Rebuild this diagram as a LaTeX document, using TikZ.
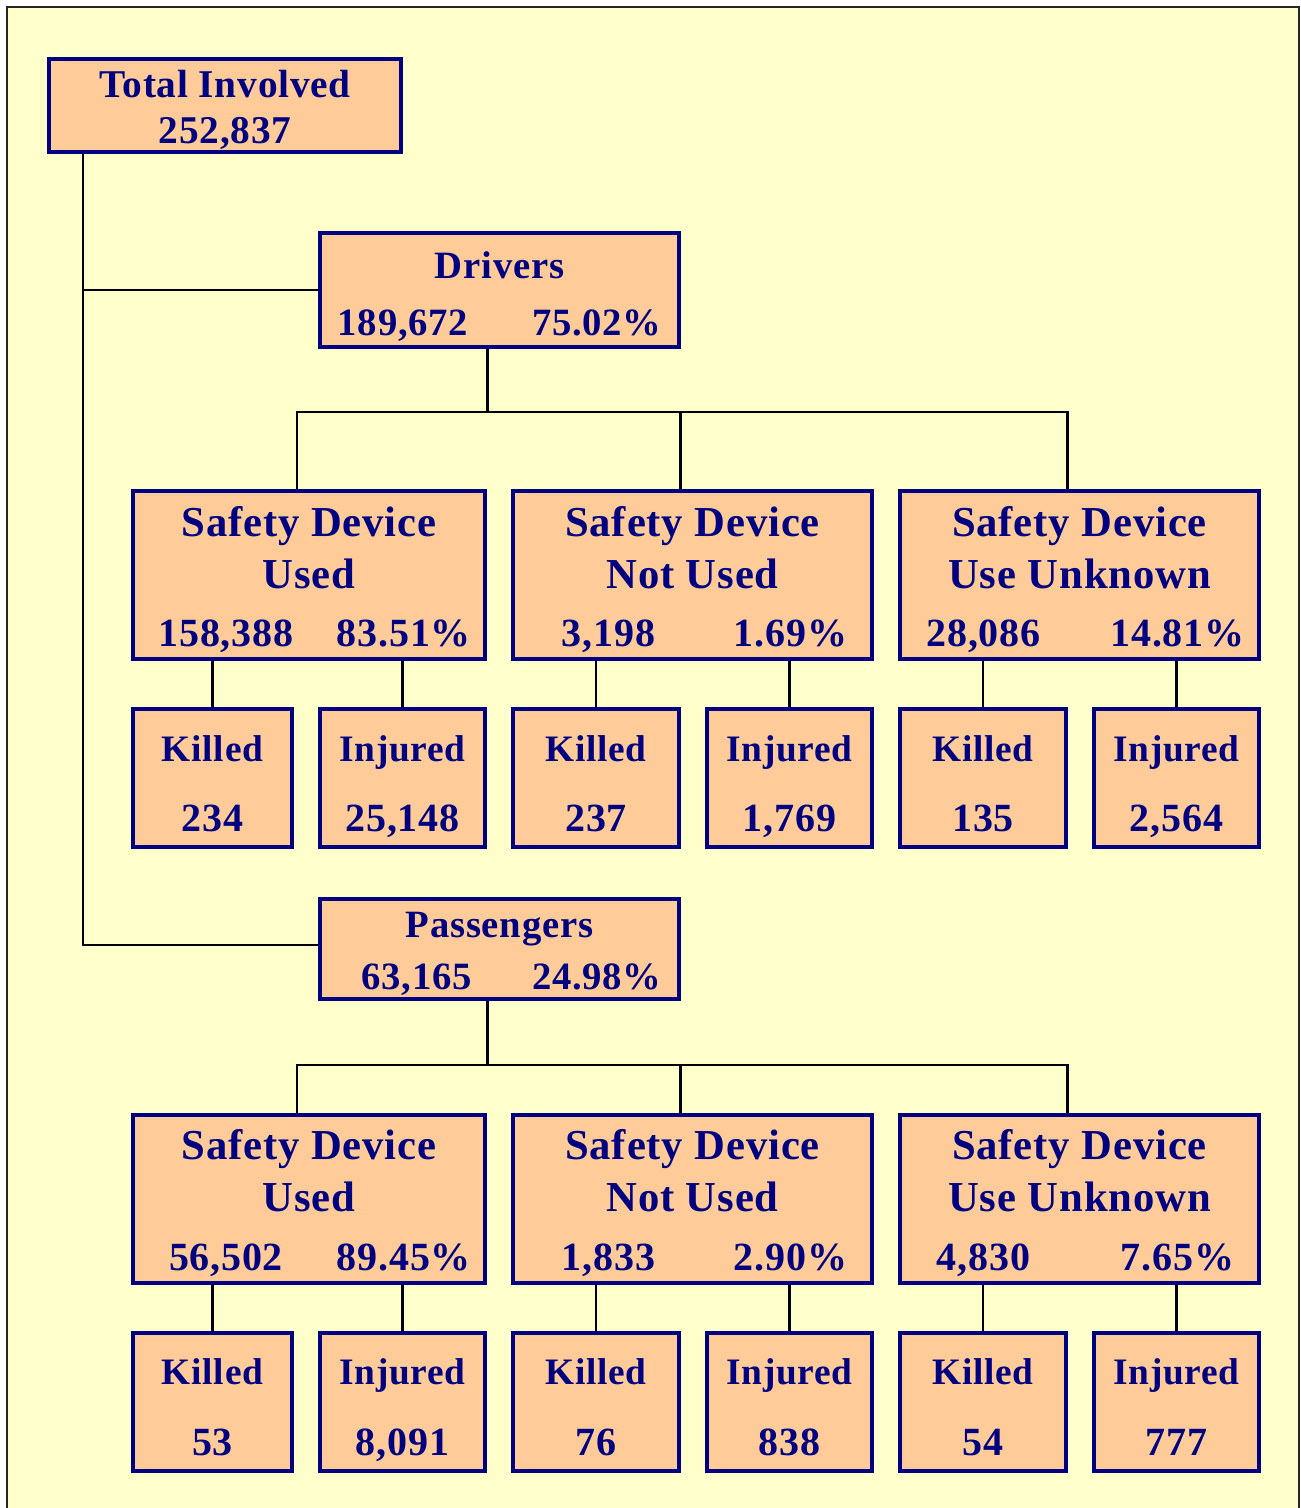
\documentclass[tikz,border=0pt]{standalone}
\usepackage{fontspec}
\setmainfont{Liberation Serif}[LetterSpace=2]
\usepackage{tikz}
\usetikzlibrary{calc}

\definecolor{navy}{HTML}{000080}
\definecolor{peach}{HTML}{FFCC99}
\definecolor{paper}{HTML}{FFFFCC}

% two figures side by side: #1 left of the box centre, #2 right of it
\newcommand{\twonum}[4]{\makebox[0pt][l]{\hspace{-#1}\makebox[0pt]{#3}%
   \hspace{\dimexpr#1+#2\relax}\makebox[0pt]{#4}}}
\newcommand{\lift}[1]{\rule{0pt}{#1}}
\newcommand{\sdnum}[4]{{\fontsize{30}{39}\selectfont\twonum{#1}{#2}{#3}{#4}}}
\newcommand{\ki}[2]{\lift{27.5pt}#1\\{\fontsize{30}{53}\selectfont\smash{#2}}}

\begin{document}
\begin{tikzpicture}[x=0.75pt,y=-0.75pt,
    box/.style={draw=navy,line width=3pt,fill=peach,text=navy,align=center,
                inner sep=0pt,font=\bfseries},
    head/.style={box,minimum width=264pt,minimum height=69.75pt,
                 font=\bfseries\fontsize{29.5}{35}\selectfont},
    grp/.style={box,minimum width=269.25pt,
                font=\bfseries\fontsize{29}{43}\selectfont},
    sdbox/.style={box,minimum height=126pt,
                  font=\bfseries\fontsize{32}{39}\selectfont},
    kibox/.style={box,minimum height=103.5pt,
                  font=\bfseries\fontsize{28}{53}\selectfont},
    link/.style={draw=black,line width=2.2pt}]

 \useasboundingbox (0,0) rectangle (1301,1508);
 \fill[paper] (7,7) rectangle (1299,1520);
 \draw[line width=1.6pt,black!85] (7,1520) -- (7,7) -- (1299,7) -- (1299,1520);

 % top of the tree
 \node [head]            (T) at (225,105.5) {\lift{27pt}Total Involved\\252,837};
 \node [grp,minimum height=85.5pt] (D) at (499.5,290)
       {\lift{30pt}Drivers\\\twonum{72.4pt}{73pt}{189,672}{75.02\%}};
 \node [grp,minimum height=75pt]   (P) at (499.5,949)
       {\lift{26pt}Passengers\\[-4pt]\twonum{62.25pt}{73pt}{63,165}{24.98\%}};

 % drivers
 \node [sdbox,minimum width=264pt]    (du) at (309,575)
       {\lift{29.5pt}Safety Device\\Used\\[5pt]\sdnum{62.25pt}{71.25pt}{158,388}{83.51\%}};
 \node [sdbox,minimum width=269.25pt] (dn) at (692.5,575)
       {\lift{29.5pt}Safety Device\\Not Used\\[5pt]\sdnum{63pt}{73.5pt}{3,198}{1.69\%}};
 \node [sdbox,minimum width=269.25pt] (dx) at (1079.5,575)
       {\lift{29.5pt}Safety Device\\Use Unknown\\[5pt]\sdnum{72pt}{73.5pt}{28,086}{14.81\%}};

 \node [kibox,minimum width=119.25pt] (dku) at (212.5,778)  {\ki{Killed}{234}};
 \node [kibox,minimum width=123.75pt] (diu) at (402.5,778)  {\ki{Injured}{25,148}};
 \node [kibox,minimum width=124.5pt]  (dkn) at (596,778)    {\ki{Killed}{237}};
 \node [kibox,minimum width=123.75pt] (din) at (789.5,778)  {\ki{Injured}{1,769}};
 \node [kibox,minimum width=124.5pt]  (dkx) at (983,778)    {\ki{Killed}{135}};
 \node [kibox,minimum width=123.75pt] (dix) at (1176.5,778) {\ki{Injured}{2,564}};

 % passengers
 \node [sdbox,minimum width=264pt]    (pu) at (309,1198.5)
       {\lift{29.5pt}Safety Device\\Used\\[5pt]\sdnum{62.25pt}{71.25pt}{56,502}{89.45\%}};
 \node [sdbox,minimum width=269.25pt] (pn) at (692.5,1198.5)
       {\lift{29.5pt}Safety Device\\Not Used\\[5pt]\sdnum{63pt}{73.5pt}{1,833}{2.90\%}};
 \node [sdbox,minimum width=269.25pt] (px) at (1079.5,1198.5)
       {\lift{29.5pt}Safety Device\\Use Unknown\\[5pt]\sdnum{72pt}{73.5pt}{4,830}{7.65\%}};

 \node [kibox,minimum width=119.25pt] (pku) at (212.5,1401.5)  {\ki{Killed}{53}};
 \node [kibox,minimum width=123.75pt] (piu) at (402.5,1401.5)  {\ki{Injured}{8,091}};
 \node [kibox,minimum width=124.5pt]  (pkn) at (596,1401.5)    {\ki{Killed}{76}};
 \node [kibox,minimum width=123.75pt] (pin) at (789.5,1401.5)  {\ki{Injured}{838}};
 \node [kibox,minimum width=124.5pt]  (pkx) at (983,1401.5)    {\ki{Killed}{54}};
 \node [kibox,minimum width=123.75pt] (pix) at (1176.5,1401.5) {\ki{Injured}{777}};

 % connectors
 \coordinate (trunk) at (83,945);
 \coordinate (dbus)  at (0,412);
 \coordinate (pbus)  at (0,1065);

 \path[link] (T.south -| trunk) -- (trunk) -- (trunk -| P.west)
             (D.west) -- (D.west -| trunk);

 \path[link] ([xshift=-9pt]D.south) -- ([xshift=-9pt]D.south |- dbus)
             ([xshift=-9pt]du.north) |- ([xshift=-9pt]dx.north |- dbus)
                                     -- ([xshift=-9pt]dx.north)
             ([xshift=-9pt]dn.north) -- ([xshift=-9pt]dn.north |- dbus);

 \path[link] ([xshift=-9pt]P.south) -- ([xshift=-9pt]P.south |- pbus)
             ([xshift=-9pt]pu.north) |- ([xshift=-9pt]px.north |- pbus)
                                     -- ([xshift=-9pt]px.north)
             ([xshift=-9pt]pn.north) -- ([xshift=-9pt]pn.north |- pbus);

 \foreach \a/\b in {du/dku,du/diu,dn/dkn,dn/din,dx/dkx,dx/dix,
                    pu/pku,pu/piu,pn/pkn,pn/pin,px/pkx,px/pix}
   \path[link] (\b.north |- \a.south) -- (\b.north);

\end{tikzpicture}
\end{document}
